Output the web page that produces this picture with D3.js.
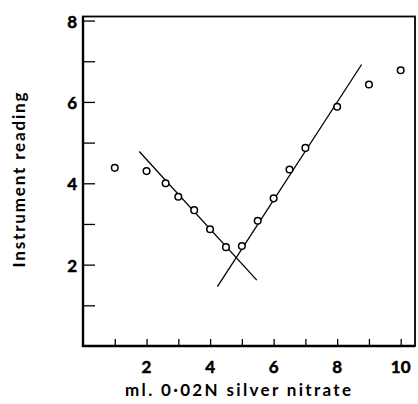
<!DOCTYPE html>
<html>
<head>
<meta charset="utf-8">
<script src="https://cdn.jsdelivr.net/npm/d3@7"></script>
<style>
  html, body { margin: 0; padding: 0; background: #fff; }
  text { font-family: Lato, "Liberation Sans", sans-serif; font-weight: bold; fill: #000; }
</style>
</head>
<body>
<div id="chart"></div>
<script>
// readings taken off the titration curve
const volumeMl = [1, 2, 2.6, 3, 3.5, 4, 4.5, 5, 5.5, 6, 6.5, 7, 8, 9, 10];
const reading = [4.38, 4.3, 4.0, 3.67, 3.34, 2.87, 2.43, 2.46, 3.08, 3.63, 4.34, 4.87, 5.88, 6.43, 6.78];

// the two straight fitted lines (end points, data units)
const fallingLine = [[1.77, 4.78], [5.47, 1.62]];
const risingLine = [[4.23, 1.46], [8.77, 6.92]];

const xTickLabels = [2, 4, 6, 8, 10];
const yTickLabels = [2, 4, 6, 8];
const xTickMarks = [1, 2, 3, 4, 5, 6, 7, 8, 9, 10];
const yTickMarks = [1, 2, 3, 4, 5, 6, 7, 8];

const width = 418, height = 404;
const margin = {top: 16.5, right: 3, bottom: 58, left: 83};

const svg = d3.select("#chart")
  .append("svg")
  .attr("width", width)
  .attr("height", height);

const x = d3.scaleLinear()
  .domain([0, 10.45])
  .range([margin.left, width - margin.right]);
const y = d3.scaleLinear()
  .domain([0, 8.1])
  .range([height - margin.bottom, margin.top]);

// frame
svg.append("rect")
  .attr("x", x(0))
  .attr("y", y(8.1))
  .attr("width", x(10.45) - x(0))
  .attr("height", y(0) - y(8.1))
  .attr("fill", "none")
  .attr("stroke", "#000")
  .attr("stroke-width", 1.8);
// heavier left and bottom axis lines
svg.append("path")
  .attr("d", `M${x(0)},${y(8.1)}V${y(0)}H${x(10.45)}`)
  .attr("fill", "none")
  .attr("stroke", "#000")
  .attr("stroke-width", 2.4);

// inward ticks
const xAxis = d3.axisTop(x).tickValues(xTickMarks).tickSize(7).tickFormat("");
svg.append("g")
  .attr("transform", `translate(0,${y(0)})`)
  .call(xAxis)
  .call(g => g.select(".domain").remove())
  .call(g => g.selectAll("line").attr("stroke-width", 1.3));

const yAxis = d3.axisRight(y).tickValues(yTickMarks).tickSize(12).tickFormat("");
svg.append("g")
  .attr("transform", `translate(${x(0)},0)`)
  .call(yAxis)
  .call(g => g.select(".domain").remove())
  .call(g => g.selectAll("line").attr("stroke-width", 1.3));

// tick labels
svg.append("g").selectAll("text")
  .data(xTickLabels)
  .join("text")
  .attr("x", d => x(d))
  .attr("y", 373)
  .attr("text-anchor", "middle")
  .attr("font-size", 17)
  .attr("stroke", "#000")
  .attr("stroke-width", 0.5)
  .text(d => d);

svg.append("g").selectAll("text")
  .data(yTickLabels)
  .join("text")
  .attr("x", 77)
  .attr("y", d => y(d) + 7)
  .attr("text-anchor", "end")
  .attr("font-size", 17)
  .attr("stroke", "#000")
  .attr("stroke-width", 0.5)
  .text(d => d);

// fitted lines
const line = d3.line().x(d => x(d[0])).y(d => y(d[1]));
[fallingLine, risingLine].forEach(pts => {
  svg.append("path")
    .attr("d", line(pts))
    .attr("fill", "none")
    .attr("stroke", "#000")
    .attr("stroke-width", 1.3);
});

// points
svg.append("g").selectAll("circle")
  .data(volumeMl.map((v, i) => [v, reading[i]]))
  .join("circle")
  .attr("cx", d => x(d[0]))
  .attr("cy", d => y(d[1]))
  .attr("r", 3.3)
  .attr("fill", "#fff")
  .attr("stroke", "#000")
  .attr("stroke-width", 1.5);

// axis titles (stretched to the width they take in the original)
svg.append("text")
  .attr("x", 238)
  .attr("y", 396)
  .attr("text-anchor", "middle")
  .attr("font-size", 17)
  .attr("textLength", 226)
  .attr("lengthAdjust", "spacing")
  .text("ml. 0·02N silver nitrate");

svg.append("text")
  .attr("transform", "translate(25,180) rotate(-90)")
  .attr("text-anchor", "middle")
  .attr("font-size", 17)
  .attr("textLength", 175)
  .attr("lengthAdjust", "spacing")
  .text("Instrument reading");
</script>
</body>
</html>
